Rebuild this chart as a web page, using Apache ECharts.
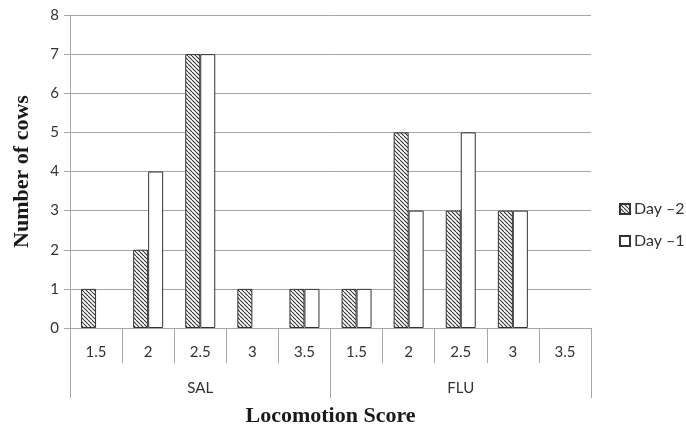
<!DOCTYPE html>
<html>
<head>
<meta charset="utf-8">
<script src="https://cdn.jsdelivr.net/npm/echarts@6/dist/echarts.min.js"></script>
<style>
html,body{margin:0;padding:0;background:#fff;}
#chart{width:686px;height:425px;}
</style>
</head>
<body>
<div id="chart"></div>
<script>
// ---- data ----
const scoreLabels = ['1.5','2','2.5','3','3.5','1.5','2','2.5','3','3.5'];
const groupLabels = ['SAL','FLU'];
const seriesNames = ['Day \u20132','Day \u20131'];
const dayMinus2 = [1,2,7,1,1, 1,5,3,3,0];
const dayMinus1 = [0,4,7,0,1, 1,3,5,3,0];
const yTicks = [0,1,2,3,4,5,6,7,8];

function makeHatch(){
  const c = document.createElement('canvas');
  c.width = 4; c.height = 4;
  const g = c.getContext('2d');
  g.fillStyle = '#fff'; g.fillRect(0,0,4,4);
  g.strokeStyle = '#333'; g.lineWidth = 1.1;
  g.beginPath();
  [-4,0,4].forEach(k=>{ g.moveTo(k,0); g.lineTo(k+4,4); });
  g.stroke();
  return c;
}
const hatch = {image: makeHatch(), repeat: 'repeat'};
const nz = arr => arr.map(v => v === 0 ? null : v);

const gridColor = '#a6a6a6';
const labelFont = 'Lato, "Open Sans", sans-serif';
const titleFont = '"Liberation Serif", "DejaVu Serif", serif';

const chart = echarts.init(document.getElementById('chart'), null, {renderer:'canvas'});
chart.setOption({
  animation: false,
  backgroundColor: '#fff',
  grid: {left: 70, right: 95, top: 15, bottom: 97, containLabel: false, outerBoundsMode: 'none'},
  legend: {
    orient: 'vertical', left: 614, top: 196,
    itemWidth: 10, itemHeight: 10, itemGap: 16,
    icon: 'rect',
    textStyle: {fontFamily: labelFont, fontSize: 16, color: '#333', padding: [0,0,0,-1]},
    data: seriesNames
  },
  xAxis: [{
    type: 'category', data: scoreLabels, position: 'bottom',
    axisLine: {show: true, lineStyle: {color: gridColor, width: 1}},
    axisTick: {show: true, interval: 0, length: 35, lineStyle: {color: gridColor}},
    axisLabel: {interval: 0, margin: 17, fontFamily: labelFont, fontSize: 15, color: '#333'},
    splitLine: {show: false}
  },{
    type: 'category', data: groupLabels, position: 'bottom', gridIndex: 0,
    axisLine: {show: false},
    axisTick: {show: true, interval: 0, length: 70, lineStyle: {color: gridColor}},
    axisLabel: {interval: 0, margin: 53, fontFamily: labelFont, fontSize: 15, color: '#333'},
    splitLine: {show: false},
    name: 'Locomotion Score', nameLocation: 'middle', nameGap: 77,
    nameTextStyle: {fontFamily: titleFont, fontWeight: 'bold', fontSize: 22, color: '#1a1a1a'}
  }],
  yAxis: {
    type: 'value', min: 0, max: 8, interval: 1,
    axisLine: {show: true, lineStyle: {color: gridColor}},
    axisTick: {show: true, length: 6, lineStyle: {color: gridColor}},
    axisLabel: {margin: 11, fontFamily: labelFont, fontSize: 15, color: '#333',
      formatter: v => yTicks.includes(v) ? String(v) : ''},
    splitLine: {show: true, lineStyle: {color: gridColor, width: 1}},
    name: 'Number of cows', nameLocation: 'middle', nameGap: 37, nameRotate: 90,
    nameTextStyle: {fontFamily: titleFont, fontWeight: 'bold', fontSize: 22, color: '#1a1a1a'}
  },
  series: [{
    name: seriesNames[0], type: 'bar', xAxisIndex: 0, data: nz(dayMinus2),
    barWidth: 15, barGap: '0%',
    itemStyle: {color: hatch, borderColor: '#333', borderWidth: 1}
  },{
    name: seriesNames[1], type: 'bar', xAxisIndex: 0, data: nz(dayMinus1),
    barWidth: 15, barGap: '0%',
    itemStyle: {color: '#fff', borderColor: '#333', borderWidth: 1}
  }]
});
</script>
</body>
</html>
